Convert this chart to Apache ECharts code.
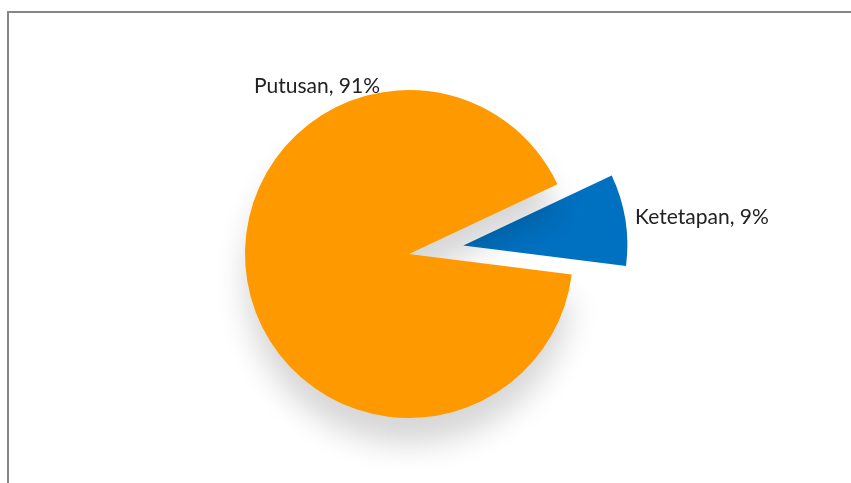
<!DOCTYPE html>
<html>
<head>
<meta charset="utf-8">
<script src="https://cdn.jsdelivr.net/npm/echarts@6/dist/echarts.min.js"></script>
<style>
  html, body { margin: 0; padding: 0; background: #fff; }
  #wrap { position: relative; width: 851px; height: 483px; overflow: hidden; }
  #frame {
    position: absolute; left: 7px; top: 11px; width: 900px; height: 500px;
    border-left: 2px solid #878787; border-top: 2px solid #878787;
  }
  #chart { position: absolute; left: 0; top: 0; width: 851px; height: 483px; }
</style>
</head>
<body>
<div id="wrap">
  <div id="frame"></div>
  <div id="chart"></div>
</div>
<script>
// data
const categories = ['Ketetapan', 'Putusan']
const values = [9, 91]
const colors = ['#0070C0', '#FF9900']

const chart = echarts.init(document.getElementById('chart'))

const option = {
  animation: false,
  series: [
    {
      type: 'pie',
      center: [409, 254],
      radius: 164,
      startAngle: 25.2,
      clockwise: true,
      selectedMode: 'single',
      selectedOffset: 55,
      label: {
        show: true,
        position: 'outside',
        fontFamily: 'Lato',
        fontSize: 21,
        color: '#222',
        formatter: p => p.name + ', ' + Math.round(p.percent) + '%'
      },
      labelLine: { show: false },
      // Putusan's label sits above the pie; the exploded slice keeps its own, nudged in
      labelLayout: p => p.dataIndex === 1
        ? { x: 254, y: 86, align: 'left', verticalAlign: 'middle' }
        : { dx: -40 },
      emphasis: { disabled: true },
      data: categories.map((name, i) => ({
        name,
        value: values[i],
        selected: i === 0,
        itemStyle: i === 1
          ? { color: colors[i], shadowBlur: 30, shadowColor: 'rgba(0,0,0,0.16)', shadowOffsetY: 26 }
          : { color: colors[i] }
      }))
    }
  ]
}

chart.setOption(option)
</script>
</body>
</html>
